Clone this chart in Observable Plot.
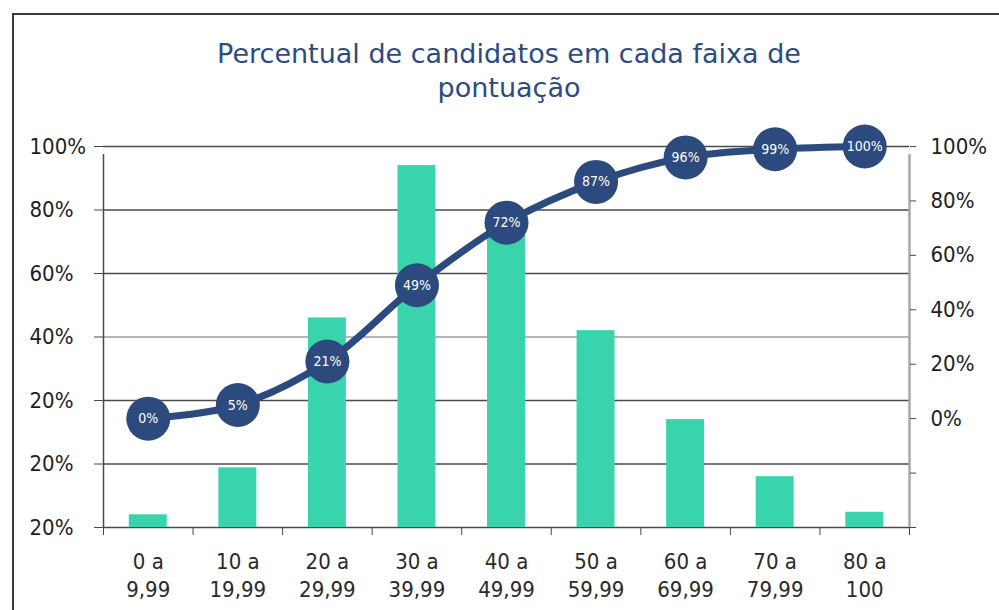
<!DOCTYPE html>
<html><head><meta charset="utf-8">
<script src="https://cdn.jsdelivr.net/npm/d3@7"></script>
<script src="https://cdn.jsdelivr.net/npm/@observablehq/plot@0.6"></script>
<style>
html,body{margin:0;padding:0;background:#fff;overflow:hidden;}
#wrap{position:relative;width:999px;height:610px;overflow:hidden;background:#fff;}
#frame{position:absolute;left:12px;top:13px;width:1100px;height:700px;border-left:2px solid #3a3a3a;border-top:2px solid #3a3a3a;}
#chart{position:absolute;left:0;top:0;}
#title{position:absolute;left:0;width:1018px;top:37px;text-align:center;font-family:"DejaVu Sans";font-size:27px;line-height:34px;color:#2d4b7f;}
</style></head><body>
<div id="wrap"><div id="frame"></div><div id="chart"></div><div id="title">Percentual de candidatos em cada faixa de<br>pontuação</div></div>
<script>
const categories = ["0 a\n9,99","10 a\n19,99","20 a\n29,99","30 a\n39,99","40 a\n49,99","50 a\n59,99","60 a\n69,99","70 a\n79,99","80 a\n100"];
const barValues = [1, 4.7, 16.5, 28.5, 23, 15.5, 8.5, 4, 1.2];
const cumulative = [0, 5, 21, 49, 72, 87, 96, 99, 100];
const leftTicks = [0, 5, 10, 15, 20, 25, 30];
const leftTickLabels = ["20%","20%","20%","40%","60%","80%","100%"];
const rightTicks = [-40, -20, 0, 20, 40, 60, 80, 100];
const rightTickLabels = ["","","0%","20%","40%","60%","80%","100%"];

const leftMin = leftTicks[0], leftMax = leftTicks[leftTicks.length - 1];
const rightMin = rightTicks[0], rightMax = rightTicks[rightTicks.length - 1];
const toLeft = p => leftMin + (p - rightMin) * (leftMax - leftMin) / (rightMax - rightMin);

const rows = categories.map((c, i) => ({i, cat: c, bar: barValues[i], cum: cumulative[i], cumY: toLeft(cumulative[i])}));
const boundaries = d3.range(categories.length + 1);
const rightPos = rightTicks.map(toLeft);

const navy = "#2c4a7e";
const green = "#3ad4ac";
const axisColor = "#4a4a4a";
const labelColor = "#1e1e1e";

const chart = Plot.plot({
  width: 999,
  height: 610,
  marginLeft: 103,
  marginRight: 90,
  marginTop: 146,
  marginBottom: 83,
  style: {fontFamily: "DejaVu Sans Condensed", background: "transparent", color: "#222"},
  x: {domain: [0, categories.length]},
  y: {domain: [leftMin, leftMax]},
  marks: [
    Plot.ruleY(leftTicks.filter(d => d !== 15), {x1: 0, x2: categories.length, stroke: axisColor, strokeWidth: 1.5}),
    Plot.ruleY(leftTicks.filter(d => d === 15), {x1: 0, x2: categories.length, stroke: "#b4b4b4", strokeWidth: 2}),
    Plot.rectY(rows, {x1: d => d.i, x2: d => d.i + 1, y: "bar", fill: green, insetLeft: 25.8, insetRight: 25.8}),
    Plot.ruleX([0], {y1: leftMin, y2: leftMax, stroke: axisColor, strokeWidth: 1.5, insetBottom: -8}),
    Plot.ruleX([categories.length], {y1: leftMin, y2: leftMax, stroke: "#a8a8a8", strokeWidth: 2.5, insetBottom: -8}),
    Plot.axisY(leftTicks, {anchor: "left", tickSize: 9, tickPadding: 65, textAnchor: "start", fontSize: 22, stroke: axisColor, fill: labelColor,
      tickFormat: d => leftTickLabels[leftTicks.indexOf(d)]}),
    Plot.axisY(rightPos, {anchor: "right", tickSize: 6, tickPadding: 15, fontSize: 22, stroke: axisColor, fill: labelColor,
      tickFormat: d => rightTickLabels[rightPos.indexOf(d)]}),
    Plot.axisX(boundaries, {anchor: "bottom", tickSize: 8, stroke: axisColor, tickFormat: () => ""}),
    Plot.text(rows, {x: d => d.i + 0.5, text: "cat", frameAnchor: "bottom", lineAnchor: "top", dy: 21, fontSize: 22, lineHeight: 1.3, fill: "#2a2a2a"}),
    Plot.line(rows, {x: d => d.i + 0.5, y: "cumY", stroke: navy, strokeWidth: 7, curve: "catmull-rom"}),
    Plot.dot(rows, {x: d => d.i + 0.5, y: "cumY", r: 22, fill: navy}),
    Plot.text(rows, {x: d => d.i + 0.5, y: "cumY", text: d => d.cum + "%", fill: "white", fontSize: 14})
  ]
});
document.getElementById("chart").appendChild(chart);
</script>
</body></html>
